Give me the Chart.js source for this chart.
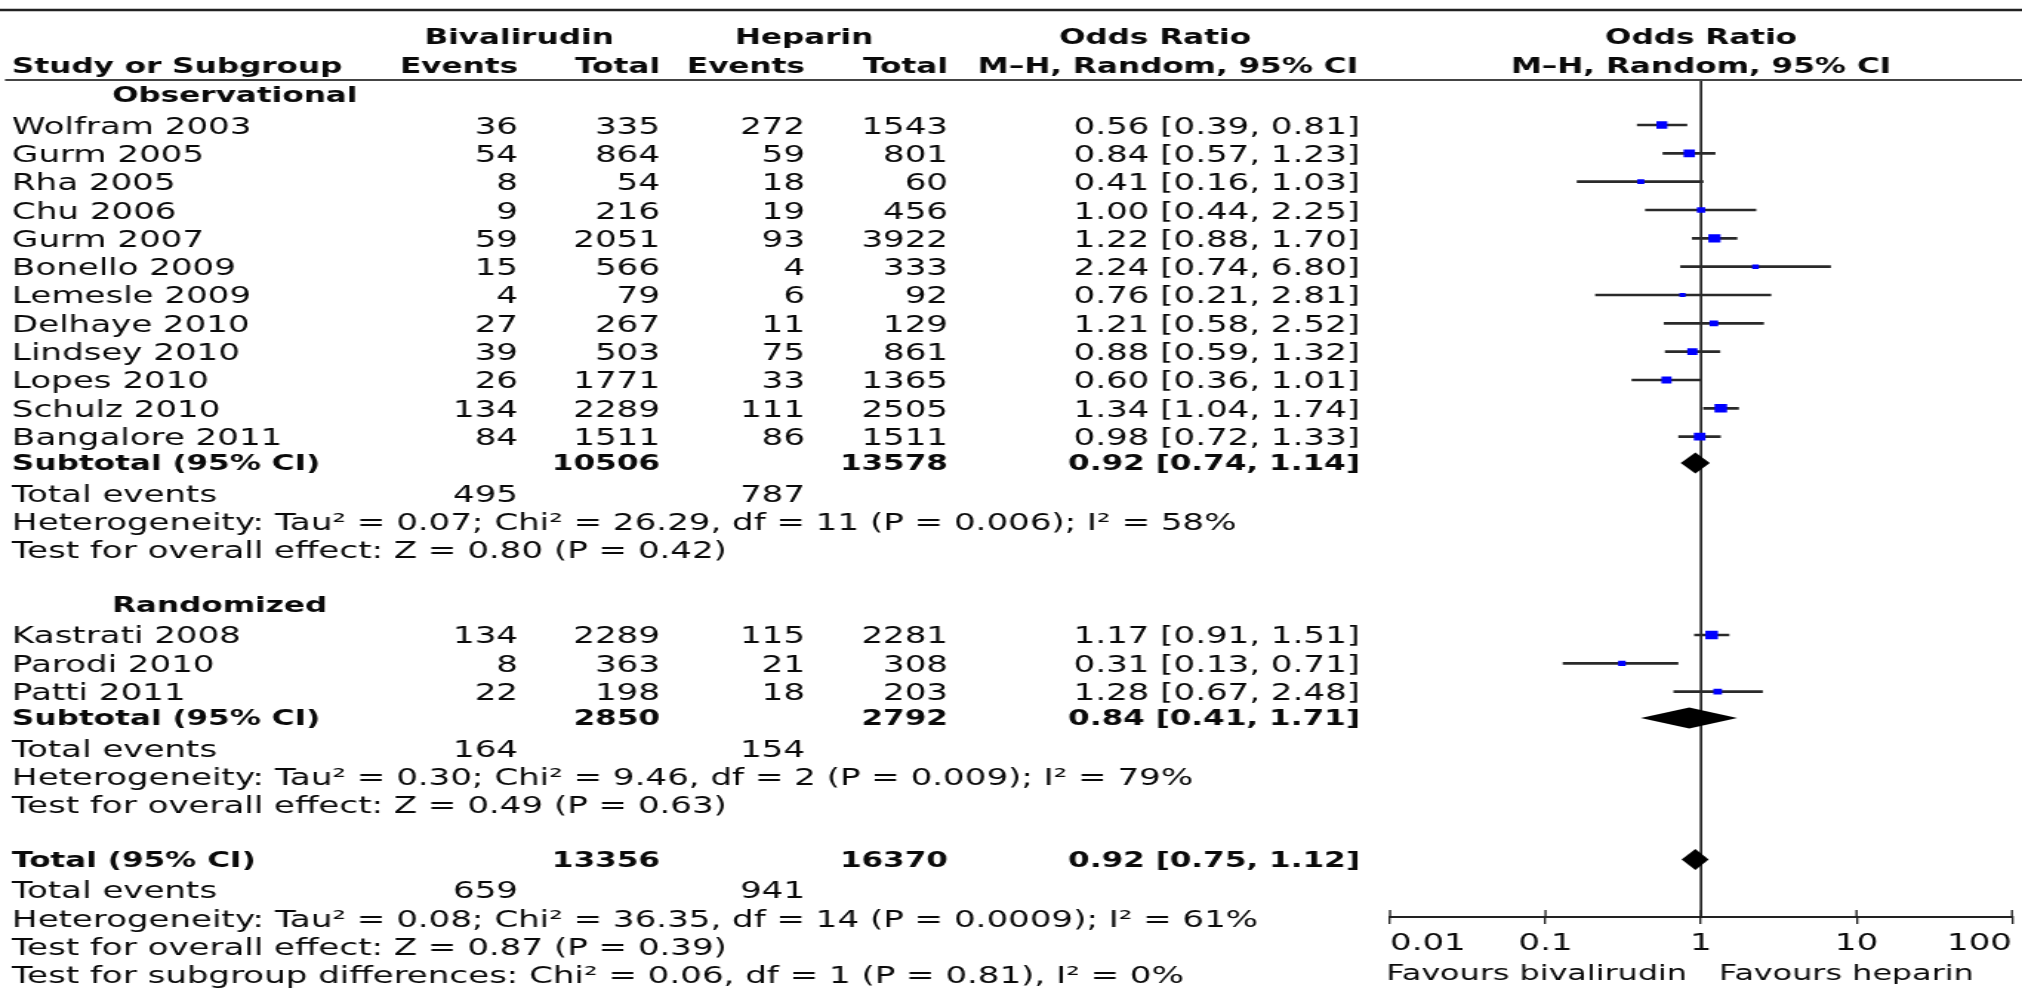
<!DOCTYPE html>
<html>
<head>
<meta charset="utf-8">
<script src="https://cdn.jsdelivr.net/npm/chart.js@4"></script>
<style>
html,body{margin:0;padding:0;background:#fff;overflow:hidden}
canvas{display:block}
</style>
</head>
<body>
<canvas id="c" width="1366" height="989" style="width:2022px;height:989px"></canvas>
<script>
// ---------------- data ----------------
const obsStudies   = ['Wolfram 2003','Gurm 2005','Rha 2005','Chu 2006','Gurm 2007','Bonello 2009','Lemesle 2009','Delhaye 2010','Lindsey 2010','Lopes 2010','Schulz 2010','Bangalore 2011'];
const obsBivEvents = [36, 54, 8, 9, 59, 15, 4, 27, 39, 26, 134, 84];
const obsBivTotal  = [335, 864, 54, 216, 2051, 566, 79, 267, 503, 1771, 2289, 1511];
const obsHepEvents = [272, 59, 18, 19, 93, 4, 6, 11, 75, 33, 111, 86];
const obsHepTotal  = [1543, 801, 60, 456, 3922, 333, 92, 129, 861, 1365, 2505, 1511];
const obsOR        = [0.56, 0.84, 0.41, 1.00, 1.22, 2.24, 0.76, 1.21, 0.88, 0.60, 1.34, 0.98];
const obsLo        = [0.39, 0.57, 0.16, 0.44, 0.88, 0.74, 0.21, 0.58, 0.59, 0.36, 1.04, 0.72];
const obsHi        = [0.81, 1.23, 1.03, 2.25, 1.70, 6.80, 2.81, 2.52, 1.32, 1.01, 1.74, 1.33];
const obsWeight    = [8.0, 8.7, 3.4, 4.6, 10.0, 3.0, 2.5, 5.0, 7.0, 6.9, 10.6, 9.0];

const randStudies   = ['Kastrati 2008','Parodi 2010','Patti 2011'];
const randBivEvents = [134, 8, 22];
const randBivTotal  = [2289, 363, 198];
const randHepEvents = [115, 21, 18];
const randHepTotal  = [2281, 308, 203];
const randOR        = [1.17, 0.31, 1.28];
const randLo        = [0.91, 0.13, 0.67];
const randHi        = [1.51, 0.71, 2.48];
const randWeight    = [10.7, 3.9, 5.0];

const groupNames     = ['Observational', 'Randomized'];
const groupBivTotal  = [10506, 2850];
const groupHepTotal  = [13578, 2792];
const groupBivEvents = [495, 164];
const groupHepEvents = [787, 154];
const groupOR        = [0.92, 0.84];
const groupLo        = [0.74, 0.41];
const groupHi        = [1.14, 1.71];
const groupHet  = ['Heterogeneity: Tau\u00B2 = 0.07; Chi\u00B2 = 26.29, df = 11 (P = 0.006); I\u00B2 = 58%',
                   'Heterogeneity: Tau\u00B2 = 0.30; Chi\u00B2 = 9.46, df = 2 (P = 0.009); I\u00B2 = 79%'];
const groupTest = ['Test for overall effect: Z = 0.80 (P = 0.42)',
                   'Test for overall effect: Z = 0.49 (P = 0.63)'];

const totalBivTotal  = [13356];
const totalHepTotal  = [16370];
const totalBivEvents = [659];
const totalHepEvents = [941];
const totalOR = [0.92];
const totalLo = [0.75];
const totalHi = [1.12];
const totalHet  = ['Heterogeneity: Tau\u00B2 = 0.08; Chi\u00B2 = 36.35, df = 14 (P = 0.0009); I\u00B2 = 61%'];
const totalTest = ['Test for overall effect: Z = 0.87 (P = 0.39)'];
const subgroupTest = ['Test for subgroup differences: Chi\u00B2 = 0.06, df = 1 (P = 0.81), I\u00B2 = 0%'];

const axisTicks      = [0.01, 0.1, 1, 10, 100];
const axisTickLabels = ['0.01', '0.1', '1', '10', '100'];
const favourLabels   = ['Favours bivalirudin', 'Favours heparin'];

// ---------------- layout helpers ----------------
const S = 2022 / 1366;            // the picture is horizontally stretched
const X = v => v / S;             // full-picture x -> canvas x
const FONT = '"DejaVu Sans"';
const COL = {study: 12, sub: 112, bivE: 518, bivT: 660, hepE: 805, hepT: 948, or: 1360};
const TEXT_DY = 2.5;

const fmtOR = (o, l, h) => o.toFixed(2) + ' [' + l.toFixed(2) + ', ' + h.toFixed(2) + ']';

// ---------------- build rows ----------------
const groups = [
  {name: groupNames[0], st: obsStudies, be: obsBivEvents, bt: obsBivTotal, he: obsHepEvents, ht: obsHepTotal, or: obsOR, lo: obsLo, hi: obsHi, w: obsWeight},
  {name: groupNames[1], st: randStudies, be: randBivEvents, bt: randBivTotal, he: randHepEvents, ht: randHepTotal, or: randOR, lo: randLo, hi: randHi, w: randWeight}
];
const tableRows = [];
const markers = [];
const cis = [];
const diamonds = [];
let row = 0;
groups.forEach((g, gi) => {
  tableRows.push({row, bold: true, cells: [[g.name, COL.sub, 'left']]});
  row++;
  g.st.forEach((name, i) => {
    tableRows.push({row, bold: false, cells: [
      [name, COL.study, 'left'],
      [String(g.be[i]), COL.bivE, 'right'],
      [String(g.bt[i]), COL.bivT, 'right'],
      [String(g.he[i]), COL.hepE, 'right'],
      [String(g.ht[i]), COL.hepT, 'right'],
      [fmtOR(g.or[i], g.lo[i], g.hi[i]), COL.or, 'right']
    ]});
    markers.push({x: g.or[i], y: row, w: g.w[i]});
    cis.push({x: [g.lo[i], g.hi[i]], y: row});
    row++;
  });
  tableRows.push({row, bold: true, cells: [
    ['Subtotal (95% CI)', COL.study, 'left'],
    [String(groupBivTotal[gi]), COL.bivT, 'right'],
    [String(groupHepTotal[gi]), COL.hepT, 'right'],
    [fmtOR(groupOR[gi], groupLo[gi], groupHi[gi]), COL.or, 'right']
  ]});
  diamonds.push({or: groupOR[gi], lo: groupLo[gi], hi: groupHi[gi], row});
  row++;
  tableRows.push({row, bold: false, cells: [
    ['Total events', COL.study, 'left'],
    [String(groupBivEvents[gi]), COL.bivE, 'right'],
    [String(groupHepEvents[gi]), COL.hepE, 'right']
  ]});
  row++;
  tableRows.push({row, bold: false, cells: [[groupHet[gi], COL.study, 'left']]}); row++;
  tableRows.push({row, bold: false, cells: [[groupTest[gi], COL.study, 'left']]}); row++;
  row++; // blank line
});
tableRows.push({row, bold: true, cells: [
  ['Total (95% CI)', COL.study, 'left'],
  [String(totalBivTotal[0]), COL.bivT, 'right'],
  [String(totalHepTotal[0]), COL.hepT, 'right'],
  [fmtOR(totalOR[0], totalLo[0], totalHi[0]), COL.or, 'right']
]});
diamonds.push({or: totalOR[0], lo: totalLo[0], hi: totalHi[0], row});
row++;
tableRows.push({row, bold: false, cells: [
  ['Total events', COL.study, 'left'],
  [String(totalBivEvents[0]), COL.bivE, 'right'],
  [String(totalHepEvents[0]), COL.hepE, 'right']
]});
row++;
tableRows.push({row, bold: false, cells: [[totalHet[0], COL.study, 'left']]}); row++;
tableRows.push({row, bold: false, cells: [[totalTest[0], COL.study, 'left']]}); row++;
tableRows.push({row, bold: false, cells: [[subgroupTest[0], COL.study, 'left']]}); row++;

// ---------------- plugin: table text, rules, reference line, diamonds ----------------
function put(ctx, s, x, y, align, bold, size) {
  ctx.font = (bold ? 'bold ' : '') + size + 'px ' + FONT;
  ctx.textAlign = align;
  ctx.textBaseline = 'middle';
  ctx.fillText(s, x, y);
}
const forestPlugin = {
  id: 'forest',
  beforeDatasetsDraw(chart) {
    const ctx = chart.ctx, xs = chart.scales.x, a = chart.chartArea;
    ctx.save();
    ctx.strokeStyle = '#1a1a1a';
    ctx.lineWidth = X(2.4);
    const px = xs.getPixelForValue(1);
    ctx.beginPath(); ctx.moveTo(px, a.top); ctx.lineTo(px, a.bottom); ctx.stroke();
    ctx.restore();
  },
  afterDatasetsDraw(chart) {
    const ctx = chart.ctx, xs = chart.scales.x, ys = chart.scales.y;
    ctx.save();
    ctx.fillStyle = '#000';
    diamonds.forEach(d => {
      const yc = ys.getPixelForValue(d.row) - 2, h = 10.5;
      ctx.beginPath();
      ctx.moveTo(xs.getPixelForValue(d.lo), yc);
      ctx.lineTo(xs.getPixelForValue(d.or), yc - h);
      ctx.lineTo(xs.getPixelForValue(d.hi), yc);
      ctx.lineTo(xs.getPixelForValue(d.or), yc + h);
      ctx.closePath();
      ctx.fill();
    });
    ctx.restore();
  },
  afterDraw(chart) {
    const ctx = chart.ctx, xs = chart.scales.x, ys = chart.scales.y, a = chart.chartArea;
    ctx.save();
    // horizontal rules
    ctx.strokeStyle = '#222';
    ctx.lineWidth = 2.6;
    ctx.beginPath(); ctx.moveTo(0, 10); ctx.lineTo(chart.width, 10); ctx.stroke();
    ctx.strokeStyle = '#444';
    ctx.lineWidth = 2;
    ctx.beginPath(); ctx.moveTo(X(5), 80); ctx.lineTo(chart.width, 80); ctx.stroke();
    // upper halves of the axis ticks
    ctx.strokeStyle = '#222';
    ctx.lineWidth = X(2);
    xs.ticks.forEach(t => {
      const p = xs.getPixelForValue(t.value);
      ctx.beginPath(); ctx.moveTo(p, a.bottom - 7); ctx.lineTo(p, a.bottom); ctx.stroke();
    });
    ctx.fillStyle = '#0a0a0a';
    const one = xs.getPixelForValue(1);
    // headers
    const h1 = 36 + TEXT_DY, h2 = 65 + TEXT_DY;
    put(ctx, 'Bivalirudin', X(519), h1, 'center', true, 21);
    put(ctx, 'Heparin', X(804), h1, 'center', true, 21);
    put(ctx, 'Odds Ratio', X(1155), h1, 'center', true, 21);
    put(ctx, 'Odds Ratio', one, h1, 'center', true, 21);
    put(ctx, 'Study or Subgroup', X(COL.study), h2, 'left', true, 21);
    put(ctx, 'Events', X(COL.bivE), h2, 'right', true, 21);
    put(ctx, 'Total', X(COL.bivT), h2, 'right', true, 21);
    put(ctx, 'Events', X(COL.hepE), h2, 'right', true, 21);
    put(ctx, 'Total', X(COL.hepT), h2, 'right', true, 21);
    put(ctx, 'M\u2013H, Random, 95% CI', X(1168), h2, 'center', true, 21);
    put(ctx, 'M\u2013H, Random, 95% CI', one, h2, 'center', true, 21);
    // table body
    tableRows.forEach(r => {
      const y = ys.getPixelForValue(r.row) + TEXT_DY + (r.bold ? -3 : 0);
      r.cells.forEach(c => put(ctx, c[0], X(c[1]), y, c[2], r.bold, r.bold ? 21 : 23));
    });
    // favours labels
    put(ctx, favourLabels[0], one - X(14), 974, 'right', false, 21.5);
    put(ctx, favourLabels[1], one + X(18), 974, 'left', false, 21.5);
    ctx.restore();
  }
};

Chart.defaults.font.family = FONT;
Chart.defaults.color = '#111';

new Chart(document.getElementById('c'), {
  type: 'scatter',
  data: {
    datasets: [
      {
        type: 'scatter',
        label: 'Odds ratio',
        data: markers.map(m => ({x: m.x, y: m.y})),
        pointStyle: 'rect',
        pointRadius: markers.map(m => 2.6 * Math.sqrt(m.w) / Math.SQRT2),
        pointHoverRadius: markers.map(m => 2.6 * Math.sqrt(m.w) / Math.SQRT2),
        backgroundColor: '#0000ff',
        borderWidth: 0,
        order: 0
      },
      {
        type: 'bar',
        label: '95% CI',
        indexAxis: 'y',
        data: cis,
        barThickness: 2,
        backgroundColor: '#2a2a2a',
        borderWidth: 0,
        order: 1
      }
    ]
  },
  options: {
    responsive: false,
    animation: false,
    devicePixelRatio: 1,
    events: [],
    layout: {padding: {left: X(1390), right: X(2022 - 2012), top: 80, bottom: 0}},
    plugins: {legend: {display: false}, tooltip: {enabled: false}},
    scales: {
      x: {
        type: 'logarithmic',
        position: 'bottom',
        min: 0.01,
        max: 100,
        offset: false,
        afterBuildTicks: s => { s.ticks = axisTicks.map(v => ({value: v})); },
        afterFit: s => { s.height = 72; },
        ticks: {
          callback: (v, i) => axisTickLabels[i],
          autoSkip: false, maxRotation: 0, minRotation: 0,
          align: 'inner', padding: 6, color: '#0a0a0a',
          font: {size: 23, family: FONT}
        },
        grid: {drawOnChartArea: false, drawTicks: true, tickLength: 7, color: '#222', lineWidth: X(2)},
        border: {display: true, color: '#222', width: 2}
      },
      y: {
        type: 'linear',
        min: -0.59,
        max: 28.955,
        reverse: true,
        offset: false,
        display: false
      }
    }
  },
  plugins: [forestPlugin]
});
</script>
</body>
</html>
